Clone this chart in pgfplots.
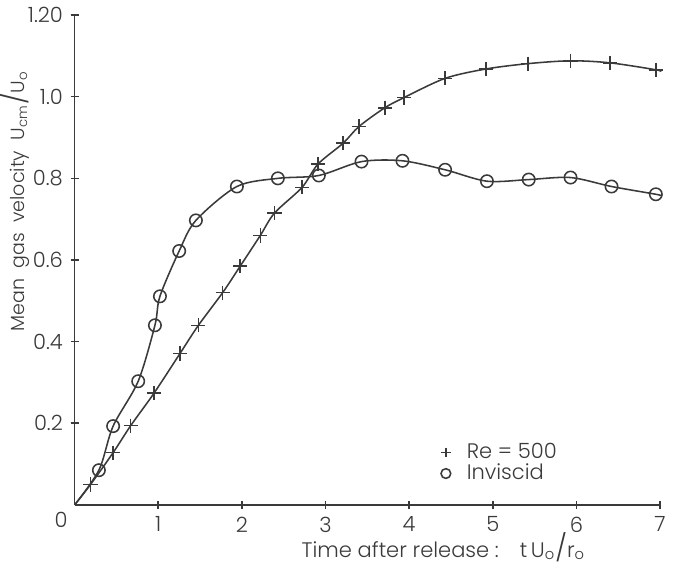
\documentclass[border=0pt]{standalone}
\usepackage{fontspec}
\setmainfont{Poppins}[UprightFont=* Light]
\usepackage{pgfplots}
\usepackage{pgfplotstable}
\pgfplotsset{compat=1.18}

\definecolor{ink}{HTML}{3A3A3A}

% Re = 500 curve (first and last rows carry no marker)
\pgfplotstableread{
x y
0 0
0.19 0.050
0.46 0.128
0.67 0.194
0.95 0.274
1.26 0.371
1.48 0.440
1.77 0.520
1.98 0.585
2.22 0.660
2.39 0.715
2.72 0.778
2.91 0.835
3.21 0.886
3.40 0.927
3.71 0.973
3.94 0.998
4.43 1.045
4.92 1.068
5.42 1.081
5.93 1.088
6.40 1.083
6.95 1.066
7.00 1.062
}\reHigh

% inviscid curve
\pgfplotstableread{
x y
0 0
0.29 0.085
0.46 0.193
0.76 0.303
0.96 0.440
1.02 0.511
1.25 0.622
1.45 0.697
1.94 0.780
2.43 0.800
2.92 0.807
3.43 0.841
3.92 0.843
4.43 0.821
4.93 0.793
5.43 0.797
5.93 0.802
6.42 0.780
6.95 0.761
7.00 0.758
}\inviscid

\begin{document}
\begin{tikzpicture}
\begin{axis}[
  scale only axis,
  width=264.6pt, height=221.4pt,
  xmin=0, xmax=7, ymin=0, ymax=1.2,
  axis lines=left,
  axis line style={-, ink, line width=0.7pt},
  tick style={ink, line width=0.7pt},
  major tick length=3.6pt,
  xtick={1,...,7},
  ytick={0.2,0.4,0.6,0.8,1.0,1.2},
  yticklabels={0.2,0.4,0.6,0.8,1.0,1.20},
  /pgf/number format/assume math mode=true,
  tick label style={font=\fontsize{9.5}{12}\selectfont, text=ink},
  label style={font=\fontsize{9.5}{12}\selectfont, text=ink},
  xlabel={Time after release :\quad t\,U\textsubscript{o}{\large/}r\textsubscript{o}},
  xlabel style={at={(ticklabel cs:0.63)}, inner sep=1.5pt, yshift=5pt},
  ylabel={Mean\ \ gas\ \ velocity\ \ U\textsubscript{cm}{\large/}U\textsubscript{o}},
  ylabel style={at={(ticklabel cs:0.62)}, inner sep=0pt,
    font=\fontsize{8.6}{11}\selectfont},
  ylabel shift=-4.5pt,
  legend style={draw=none, fill=none, at={(0.61,0.145)}, anchor=north west,
    font=\fontsize{9.5}{12}\selectfont, text=ink, row sep=-3pt},
  legend cell align=left,
  legend image code/.code={%
    \path (-0.1cm,0cm) (0.25cm,0cm);
    \draw[#1, mark size=2.2pt, mark indices={1}] plot coordinates {(0cm,0cm)};},
  clip=false,
]
\addplot[ink, line width=0.7pt, smooth, forget plot] table {\reHigh};
\addplot[ink, line width=0.7pt, smooth, forget plot] table {\inviscid};
\addplot[only marks, mark=+, mark size=3.2pt, ink, line width=0.7pt,
  mark indices={2,...,23}] table {\reHigh};
\addlegendentry{Re = 500}
\addplot[only marks, mark=o, mark size=2.8pt, ink, fill=white, line width=0.7pt,
  mark indices={2,...,19}] table {\inviscid};
\addlegendentry{Inviscid}
\node[anchor=north east, font=\fontsize{9.5}{12}\selectfont, text=ink, inner sep=3pt]
  at (axis cs:0,0) {0};
\end{axis}
\end{tikzpicture}
\end{document}
